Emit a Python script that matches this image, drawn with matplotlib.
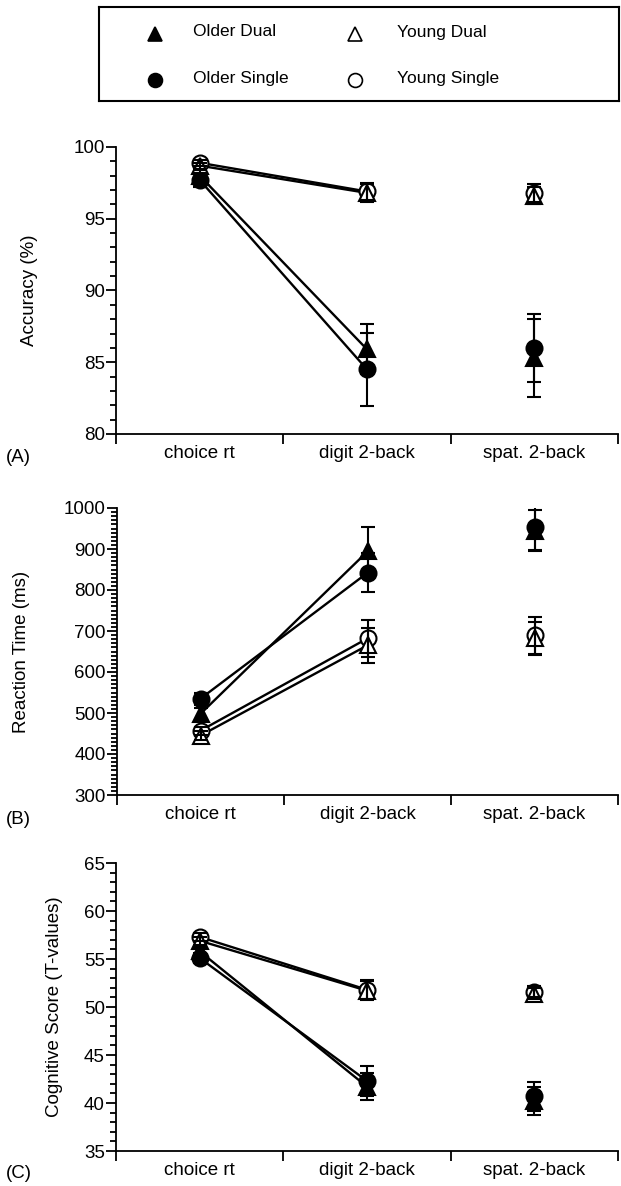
import matplotlib
matplotlib.use("Agg")
import matplotlib.pyplot as plt
from matplotlib.ticker import MultipleLocator, FixedLocator, NullFormatter, FixedFormatter

plt.rcParams['font.family'] = ['Liberation Sans', 'DejaVu Sans']

categories = ['choice rt', 'digit 2-back', 'spat. 2-back']

# Panel A: Accuracy (%)
older_dual_acc = [98.0, 85.9, 85.3]
older_dual_acc_err = [0.4, 1.75, 2.7]
older_single_acc = [97.7, 84.5, 86.0]
older_single_acc_err = [0.5, 2.55, 2.35]
young_dual_acc = [98.7, 96.8, 96.6]
young_dual_acc_err = [0.2, 0.6, 0.6]
young_single_acc = [98.9, 96.9, 96.8]
young_single_acc_err = [0.2, 0.6, 0.6]

# Panel B: Reaction Time (ms)
older_dual_rt = [498, 894, 945]
older_dual_rt_err = [15, 60, 50]
older_single_rt = [535, 842, 953]
older_single_rt_err = [15, 48, 55]
young_dual_rt = [445, 665, 682]
young_dual_rt_err = [10, 43, 40]
young_single_rt = [457, 682, 690]
young_single_rt_err = [10, 45, 45]

# Panel C: Cognitive Score (T-values)
older_dual_cs = [55.8, 41.7, 40.2]
older_dual_cs_err = [0.5, 1.4, 1.5]
older_single_cs = [55.1, 42.3, 40.7]
older_single_cs_err = [0.5, 1.6, 1.5]
young_dual_cs = [56.9, 51.7, 51.4]
young_dual_cs_err = [0.4, 1.0, 0.6]
young_single_cs = [57.3, 51.8, 51.6]
young_single_cs_err = [0.4, 1.0, 0.6]

W, H = 621, 1186
fig = plt.figure(figsize=(W / 100, H / 100), dpi=100)


def box(x0, y0, x1, y1):
    return [x0 / W, 1 - y1 / H, (x1 - x0) / W, (y1 - y0) / H]


styles = {
    'Older Dual': dict(marker='^', mfc='black'),
    'Older Single': dict(marker='o', mfc='black'),
    'Young Dual': dict(marker='^', mfc='white'),
    'Young Single': dict(marker='o', mfc='white'),
}

FS = 13.5
LFS = 12.5


def panel(rect, series, ylim, major, minor, ylabel, ylabel_x, letter, letter_y):
    ax = fig.add_axes(box(*rect))
    x = list(range(len(categories)))
    for name, (vals, errs) in series.items():
        st = styles[name]
        ax.plot(x[:2], vals[:2], color='black', lw=1.7, zorder=2)
        ax.errorbar(x, vals, yerr=errs, fmt='none', ecolor='black', elinewidth=1.5,
                    capsize=5, capthick=1.5, zorder=4)
        ax.plot(x, vals, linestyle='none', marker=st['marker'], markersize=11.5,
                markerfacecolor=st['mfc'], markeredgecolor='black', markeredgewidth=1.5,
                zorder=3)
    ax.set_xlim(-0.5, 2.5)
    ax.set_ylim(*ylim)
    for s in ['top', 'right']:
        ax.spines[s].set_visible(False)
    for s in ['left', 'bottom']:
        ax.spines[s].set_linewidth(1.3)
    ax.xaxis.set_major_locator(FixedLocator([-0.5, 0.5, 1.5, 2.5]))
    ax.xaxis.set_major_formatter(NullFormatter())
    ax.xaxis.set_minor_locator(FixedLocator(x))
    ax.xaxis.set_minor_formatter(FixedFormatter(categories))
    ax.tick_params(axis='x', which='major', direction='out', length=7, width=1.3)
    ax.tick_params(axis='x', which='minor', length=0, pad=8, labelsize=FS)
    ax.yaxis.set_major_locator(MultipleLocator(major))
    ax.yaxis.set_minor_locator(MultipleLocator(minor))
    ax.tick_params(axis='y', which='major', direction='out', length=7, width=1.3,
                   labelsize=FS, pad=1)
    ax.tick_params(axis='y', which='minor', direction='out', length=4, width=1.3)
    cy = (rect[1] + rect[3]) / 2
    fig.text(ylabel_x / W, 1 - cy / H, ylabel, rotation=90, ha='center', va='center',
             fontsize=FS)
    fig.text(6 / W, 1 - letter_y / H, letter, ha='left', va='center', fontsize=FS)
    return ax


panel((116, 147, 618, 434),
      {'Older Single': (older_single_acc, older_single_acc_err),
       'Older Dual': (older_dual_acc, older_dual_acc_err),
       'Young Single': (young_single_acc, young_single_acc_err),
       'Young Dual': (young_dual_acc, young_dual_acc_err)},
      (80, 100), 5, 1, 'Accuracy (%)', 30, '(A)', 457)

panel((117, 508, 618, 795),
      {'Older Single': (older_single_rt, older_single_rt_err),
       'Older Dual': (older_dual_rt, older_dual_rt_err),
       'Young Single': (young_single_rt, young_single_rt_err),
       'Young Dual': (young_dual_rt, young_dual_rt_err)},
      (300, 1000), 100, 10, 'Reaction Time (ms)', 22, '(B)', 819)

panel((116, 863, 618, 1151),
      {'Older Single': (older_single_cs, older_single_cs_err),
       'Older Dual': (older_dual_cs, older_dual_cs_err),
       'Young Single': (young_single_cs, young_single_cs_err),
       'Young Dual': (young_dual_cs, young_dual_cs_err)},
      (35, 65), 5, 1, 'Cognitive Score (T-values)', 55, '(C)', 1173)

# Legend box
lx0, ly0, lx1, ly1 = 99, 7, 619, 101
lax = fig.add_axes(box(lx0, ly0, lx1, ly1))
lax.set_xlim(lx0, lx1)
lax.set_ylim(ly1, ly0)
lax.set_xticks([])
lax.set_yticks([])
for s in lax.spines.values():
    s.set_linewidth(1.5)
legend_names = ['Older Dual', 'Older Single', 'Young Dual', 'Young Single']
legend_pos = [(155, 193, 32), (155, 193, 78), (355, 397, 32), (355, 397, 78)]
for name, (mx, tx, yy) in zip(legend_names, legend_pos):
    st = styles[name]
    lax.plot([mx], [yy + 2], linestyle='none', marker=st['marker'], markersize=10,
             markerfacecolor=st['mfc'], markeredgecolor='black', markeredgewidth=1.2)
    lax.text(tx, yy, name, ha='left', va='center', fontsize=LFS)

fig.savefig('out.png', dpi=100)
